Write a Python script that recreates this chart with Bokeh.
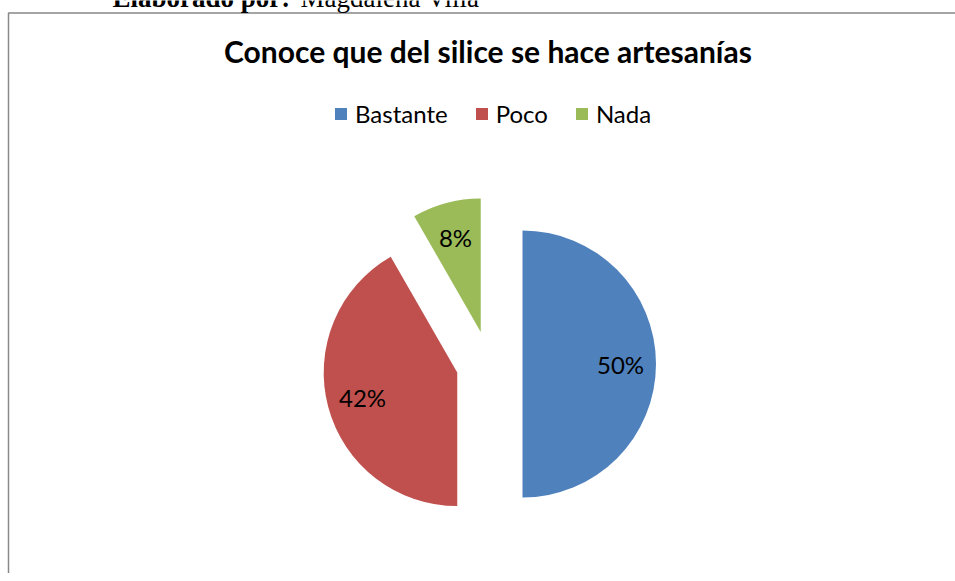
import math
from bokeh.plotting import figure
from bokeh.models import Range1d, Legend, LegendItem, ColumnDataSource
from bokeh.core.properties import value
from bokeh.embed import file_html
from bokeh.resources import INLINE

# ---- data ----
categories = ["Bastante", "Poco", "Nada"]
values = [50, 41.7, 8.3]
colors = ["#4F81BD", "#C0504D", "#9BBB59"]
title_text = "Conoce que del silice se hace artesanías"
source_bold = "Elaborado por:"
source_name = "Magdalena Villa"

# ---- layout ----
W, H = 955, 573
CX, CY = 488.8, H - 363.5   # pie centre (data units == pixels)
R = 133.5                    # pie radius (px)
EXPLODE = 33.2               # explosion distance (px)
LABEL_R = 98                 # label distance from slice centre (px)

p = figure(width=W, height=H, x_range=Range1d(0, W), y_range=Range1d(0, H),
           output_backend="svg", toolbar_location=None, min_border=0,
           x_axis_location=None, y_axis_location=None, margin=(0, 0, 0, 0))
p.grid.visible = False
p.outline_line_color = None
p.background_fill_color = "white"
p.border_fill_color = "white"

# chart border frame
p.line(x=[8, 8, 2000], y=[-50, H - 12.5, H - 12.5], line_color="#888888", line_width=1.5)

total = float(sum(values))
xs, ys, starts, ends, lx, ly, labels = [], [], [], [], [], [], []
cum = 0.0
for v in values:
    a0 = math.pi / 2 - cum / total * 2 * math.pi
    a1 = math.pi / 2 - (cum + v) / total * 2 * math.pi
    mid = (a0 + a1) / 2
    cx = CX + EXPLODE * math.cos(mid)
    cy = CY + EXPLODE * math.sin(mid)
    xs.append(cx); ys.append(cy); starts.append(a0); ends.append(a1)
    lx.append(cx + LABEL_R * math.cos(mid)); ly.append(cy + LABEL_R * math.sin(mid))
    labels.append(f"{round(v / total * 100):.0f}%")
    cum += v

src = ColumnDataSource(dict(x=xs, y=ys, start=starts, end=ends, color=colors,
                            cat=categories, lx=lx, ly=ly, lab=labels))
wr = p.wedge(x="x", y="y", radius=R, radius_units="screen", start_angle="start",
             end_angle="end", direction="clock", fill_color="color", line_color=None, source=src)

p.text(x="lx", y="ly", text="lab", source=src, text_font=value("Lato"), text_font_size="24px",
       text_align="center", text_baseline="middle", text_color="black")

legend = Legend(items=[LegendItem(label=c, renderers=[wr], index=i) for i, c in enumerate(categories)],
                orientation="horizontal", location=(333, 445), glyph_width=15, glyph_height=15,
                label_standoff=7, spacing=26, padding=0, margin=0,
                border_line_color=None, background_fill_alpha=0,
                label_text_font="Lato", label_text_font_size="24px", label_text_color="black")
p.add_layout(legend)

# title and source line
p.text(x=[487.5], y=[H - 50], text=[title_text], text_align="center", text_baseline="middle",
       text_font=value("Lato"), text_font_style="bold", text_font_size="30px", text_color="black")
p.text(x=[112], y=[H + 3], text=[source_bold], text_align="left", text_baseline="middle",
       text_font=value("Liberation Serif"), text_font_style="bold", text_font_size="27px",
       text_color="black")
p.text(x=[300], y=[H + 3], text=[source_name], text_align="left", text_baseline="middle",
       text_font=value("Liberation Serif"), text_font_size="27px", text_color="black")

open("out.html", "w").write(file_html(p, INLINE))
